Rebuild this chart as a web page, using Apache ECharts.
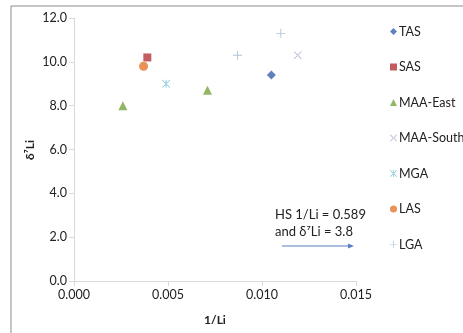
<!DOCTYPE html>
<html><head><meta charset="utf-8">
<script src="https://cdn.jsdelivr.net/npm/echarts@6/dist/echarts.min.js"></script>
<style>html,body{margin:0;padding:0;background:#fff}#c{width:463px;height:333px}</style>
</head><body><div id="c"></div>
<script>
const seriesNames = ['TAS','SAS','MAA-East','MAA-South','MGA','LAS','LGA'];
const TAS = [[0.0105, 9.4]];
const SAS = [[0.0039, 10.2]];
const MAA_East = [[0.0026, 8.0], [0.0071, 8.7]];
const MAA_South = [[0.0119, 10.3]];
const MGA = [[0.0049, 9.0]];
const LAS = [[0.0037, 9.8]];
const LGA = [[0.0087, 10.3], [0.0110, 11.3]];
const yTicks = [0, 2, 4, 6, 8, 10, 12];
const xTicks = [0, 0.005, 0.010, 0.015];

const FONT = 'Lato, "Open Sans", sans-serif';
const plusPath = 'path://M4.5,0H5.5V4.5H10V5.5H5.5V10H4.5V5.5H0V4.5H4.5Z';
const xPath = 'path://M0,0.7L0.7,0L10,9.3L9.3,10Z M10,0.7L9.3,0L0,9.3L0.7,10Z';
const astPath = 'path://M4.5,0H5.5V10H4.5Z M0,0.7L0.7,0L10,9.3L9.3,10Z M10,0.7L9.3,0L0,9.3L0.7,10Z';
const cfg = [
  {data: TAS, symbol: 'diamond', size: 9, color: '#3a62ad'},
  {data: SAS, symbol: 'rect', size: 8, color: '#b2343a'},
  {data: MAA_East, symbol: 'triangle', size: 9, color: '#77a43b'},
  {data: MAA_South, symbol: xPath, size: 8, color: '#a394c9'},
  {data: MGA, symbol: astPath, size: 8, color: '#5fb7c9'},
  {data: LAS, symbol: 'circle', size: 9, color: '#e2772b'},
  {data: LGA, symbol: plusPath, size: 9, color: '#9fb0d8'}
];
const series = cfg.map((c, i) => ({
  name: seriesNames[i], type: 'scatter', data: c.data,
  symbol: c.symbol, symbolSize: c.size,
  itemStyle: {color: c.color}
}));

const chart = echarts.init(document.getElementById('c'), null, {renderer: 'canvas'});
chart.setOption({
  animation: false,
  grid: {left: 74, right: 107, top: 18, bottom: 52},
  xAxis: {
    type: 'value', min: xTicks[0], max: xTicks[xTicks.length - 1], interval: 0.005,
    axisLine: {show: true, lineStyle: {color: '#d9d9d9'}},
    axisTick: {show: true, length: 5, lineStyle: {color: '#d9d9d9'}},
    splitLine: {show: false},
    axisLabel: {color: '#222', fontFamily: FONT, fontSize: 12.5, margin: 7, formatter: v => v.toFixed(3)}
  },
  yAxis: {
    type: 'value', min: yTicks[0], max: yTicks[yTicks.length - 1], interval: 2,
    axisLine: {show: true, lineStyle: {color: '#d9d9d9'}},
    axisTick: {show: true, length: 5, lineStyle: {color: '#d9d9d9'}},
    splitLine: {show: false},
    axisLabel: {color: '#222', fontFamily: FONT, fontSize: 12.5, margin: 7, formatter: v => v.toFixed(1)}
  },
  legend: {
    orient: 'vertical', left: 385, top: 20, itemGap: 22.5, itemWidth: 7, itemHeight: 7,
    textStyle: {color: '#222', fontFamily: FONT, fontSize: 12.5, padding: [0, 0, 0, -3]},
    data: seriesNames
  },
  series: series,
  graphic: [
    {type: 'line', shape: {x1: 11, y1: 6, x2: 463, y2: 6}, style: {stroke: '#8c8c8c', lineWidth: 1}},
    {type: 'line', shape: {x1: 11, y1: 6, x2: 11, y2: 333}, style: {stroke: '#8c8c8c', lineWidth: 1}},
    {type: 'text', x: 30, y: 150, rotation: Math.PI / 2,
     style: {text: 'δ⁷Li', fill: '#222', font: 'bold 12px ' + FONT, textAlign: 'center', textVerticalAlign: 'middle'}},
    {type: 'text', x: 215, y: 320,
     style: {text: '1/Li', fill: '#222', font: 'bold 12px ' + FONT, textAlign: 'center', textVerticalAlign: 'middle'}},
    {type: 'text', x: 275, y: 215,
     style: {text: 'HS 1/Li = 0.589', fill: '#222', font: '13px ' + FONT, textAlign: 'left', textVerticalAlign: 'middle'}},
    {type: 'text', x: 275, y: 232,
     style: {text: 'and δ⁷Li = 3.8', fill: '#222', font: '13px ' + FONT, textAlign: 'left', textVerticalAlign: 'middle'}},
    {type: 'line', shape: {x1: 282, y1: 246, x2: 352, y2: 246}, style: {stroke: '#5b7fc2', lineWidth: 1}},
    {type: 'polygon', shape: {points: [[354, 246], [348, 243.5], [348, 248.5]]}, style: {fill: '#5b7fc2'}}
  ]
});
</script></body></html>
